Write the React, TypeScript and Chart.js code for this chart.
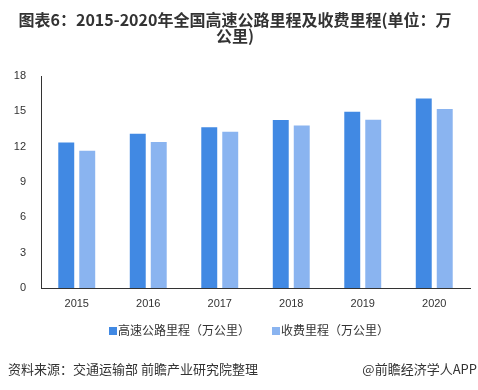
import React, { useEffect, useRef } from "react";
import { Chart, registerables } from "chart.js";

Chart.register(...registerables);

const categories = ["2015", "2016", "2017", "2018", "2019", "2020"];
const highwayMileage = [12.35, 13.1, 13.64, 14.26, 14.96, 16.1];
const tollMileage = [11.66, 12.4, 13.26, 13.8, 14.28, 15.2];
const seriesNames = ["高速公路里程（万公里）", "收费里程（万公里）"];
const seriesColors = ["#4189E3", "#8AB4F0"];
const titleLines = ["图表6：2015-2020年全国高速公路里程及收费里程(单位：万", "公里)"];
const sourceText = "资料来源：交通运输部 前瞻产业研究院整理";
const brandText = "@前瞻经济学人APP";

const CJK = '"Noto Sans CJK SC", "Noto Sans", sans-serif';

export default function App() {
  const canvasRef = useRef<HTMLCanvasElement | null>(null);

  useEffect(() => {
    const canvas = canvasRef.current;
    if (!canvas) return;
    const chart = new Chart(canvas, {
      type: "bar",
      data: {
        labels: categories,
        datasets: [
          {
            label: seriesNames[0],
            data: highwayMileage,
            backgroundColor: seriesColors[0],
            categoryPercentage: 0.587,
            barPercentage: 0.76,
          },
          {
            label: seriesNames[1],
            data: tollMileage,
            backgroundColor: seriesColors[1],
            categoryPercentage: 0.587,
            barPercentage: 0.76,
          },
        ],
      },
      options: {
        responsive: false,
        animation: false,
        devicePixelRatio: 1,
        layout: { padding: { left: 0, right: 8, top: 0, bottom: 78 } },
        plugins: {
          legend: { display: false },
          tooltip: { enabled: false },
          title: {
            display: true,
            text: titleLines,
            color: "#333333",
            font: { family: CJK, size: 16, weight: "bold", lineHeight: 1 },
            padding: { top: 12, bottom: 32 },
          },
        },
        scales: {
          x: {
            grid: { display: false, drawTicks: false },
            border: { display: true, color: "#333333", width: 1 },
            ticks: {
              color: "#333333",
              font: { family: '"Liberation Sans", Arial, sans-serif', size: 11 },
              padding: 9,
            },
            afterFit: (scale: any) => {
              scale.height = 24;
            },
          },
          y: {
            min: 0,
            max: 18,
            grid: { display: false, drawTicks: false },
            border: { display: true, color: "#333333", width: 1 },
            ticks: {
              stepSize: 3,
              color: "#333333",
              font: { family: '"Liberation Sans", Arial, sans-serif', size: 11 },
              padding: 15,
            },
            afterFit: (scale: any) => {
              scale.width = 41;
            },
          },
        },
      },
    });
    return () => chart.destroy();
  }, []);

  const legendItem = (i: number, left: number) => (
    <div
      style={{
        position: "absolute",
        left,
        top: 322,
        height: 16,
        display: "flex",
        alignItems: "center",
        whiteSpace: "nowrap",
      }}
    >
      <span
        style={{
          display: "inline-block",
          width: 8,
          height: 8,
          background: seriesColors[i],
          marginRight: 1,
          marginTop: 2,
        }}
      />
      <span style={{ fontFamily: CJK, fontSize: 12, color: "#333333", lineHeight: "16px" }}>
        {seriesNames[i]}
      </span>
    </div>
  );

  return (
    <div
      style={{
        position: "fixed",
        left: 0,
        top: 0,
        width: 478,
        height: 390,
        background: "#ffffff",
        overflow: "hidden",
      }}
    >
      <canvas ref={canvasRef} width={478} height={390} style={{ position: "absolute", left: 0, top: 0 }} />
      {legendItem(0, 109)}
      {legendItem(1, 272)}
      <div
        style={{
          position: "absolute",
          left: 8,
          top: 361,
          fontFamily: CJK,
          fontSize: 13,
          lineHeight: "16px",
          color: "#333333",
          whiteSpace: "nowrap",
        }}
      >
        {sourceText}
      </div>
      <div
        style={{
          position: "absolute",
          right: 1,
          top: 361,
          fontFamily: CJK,
          fontSize: 13,
          lineHeight: "16px",
          color: "#333333",
          whiteSpace: "nowrap",
        }}
      >
        {brandText}
      </div>
    </div>
  );
}
